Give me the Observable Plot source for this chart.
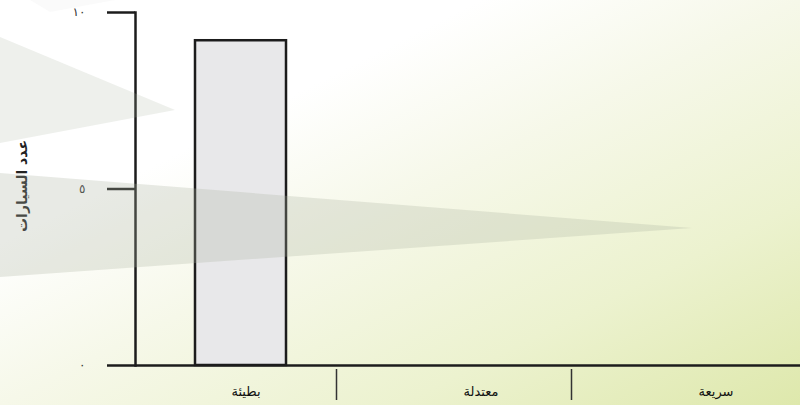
<!DOCTYPE html>
<html>
<head>
<meta charset="utf-8">
<script src="https://cdn.jsdelivr.net/npm/d3@7"></script>
<script src="https://cdn.jsdelivr.net/npm/@observablehq/plot@0.6"></script>
<style>
  html, body { margin: 0; padding: 0; }
  #wrap {
    position: relative; width: 800px; height: 405px; overflow: hidden;
    background: linear-gradient(to bottom right, #ffffff 30%, #f6f8e9 50%, #ecf2cf 75%, #dee8ac 100%);
  }
  #chart svg { display: block; }
  #deco { position: absolute; left: 0; top: 0; pointer-events: none; }
</style>
</head>
<body>
<div id="wrap">
  <div id="chart"></div>
  <svg id="deco" width="800" height="405">
    <polygon points="30,0 115,0 50,12" fill="rgb(172,178,162)" fill-opacity="0.06"/>
    <polygon points="0,37 175,110 0,143" fill="rgb(172,178,162)" fill-opacity="0.2"/>
    <polygon points="0,173 692,228 0,277" fill="rgb(172,178,162)" fill-opacity="0.28"/>
  </svg>
</div>
<script>
// Data
const categories = ["بطيئة", "معتدلة", "سريعة"];
const carCounts = [9.2, 0, 0];
const yTicks = [0, 5, 10];
const yTickLabels = ["٠", "٥", "١٠"];
const yTitle = "عدد السيارات";

const rows = categories.map((c, i) => ({category: c, count: carCounts[i]}));
const xRange = [101, 806];
const bw = (xRange[1] - xRange[0]) / categories.length;
const ink = "#1c1c1c";
const font = "DejaVu Sans, sans-serif";

const plot = Plot.plot({
  width: 800,
  height: 405,
  marginTop: 12,
  marginBottom: 40,
  marginLeft: 135,
  marginRight: 0,
  style: {background: "transparent", fontFamily: font, color: ink},
  x: {type: "band", domain: categories, range: xRange, padding: 0, axis: null},
  y: {domain: [0, 10], range: [365, 12], axis: null},
  marks: [
    Plot.barY(rows.filter(d => d.count > 0), {
      x: "category", y: "count",
      fill: "#e8e8ea", stroke: ink, strokeWidth: 2.5,
      insetLeft: 94, insetRight: 50
    }),
    Plot.frame({anchor: "left", stroke: ink, strokeWidth: 2.5}),
    Plot.ruleY([0], {stroke: ink, strokeWidth: 2.5}),
    Plot.axisY(yTicks, {
      tickSize: 28, tickPadding: 22, strokeWidth: 2.5, stroke: ink,
      tickFormat: (d) => yTickLabels[yTicks.indexOf(d)],
      fontSize: 12, fill: "#333", label: null
    }),
    Plot.text([yTitle], {
      frameAnchor: "left", dx: -113, dy: -3, rotate: -90, textAnchor: "middle",
      fontSize: 14, fontWeight: 600, fill: "#222"
    }),
    Plot.ruleX(categories.slice(1), {
      x: d => d, dx: -bw / 2, insetTop: 357, insetBottom: -35,
      stroke: "#333", strokeWidth: 1.5
    }),
    Plot.text(categories, {
      x: d => d, y: 0, dy: 26, dx: 27,
      fontSize: 13, fill: "#111"
    })
  ]
});
document.getElementById("chart").appendChild(plot);
</script>
</body>
</html>
